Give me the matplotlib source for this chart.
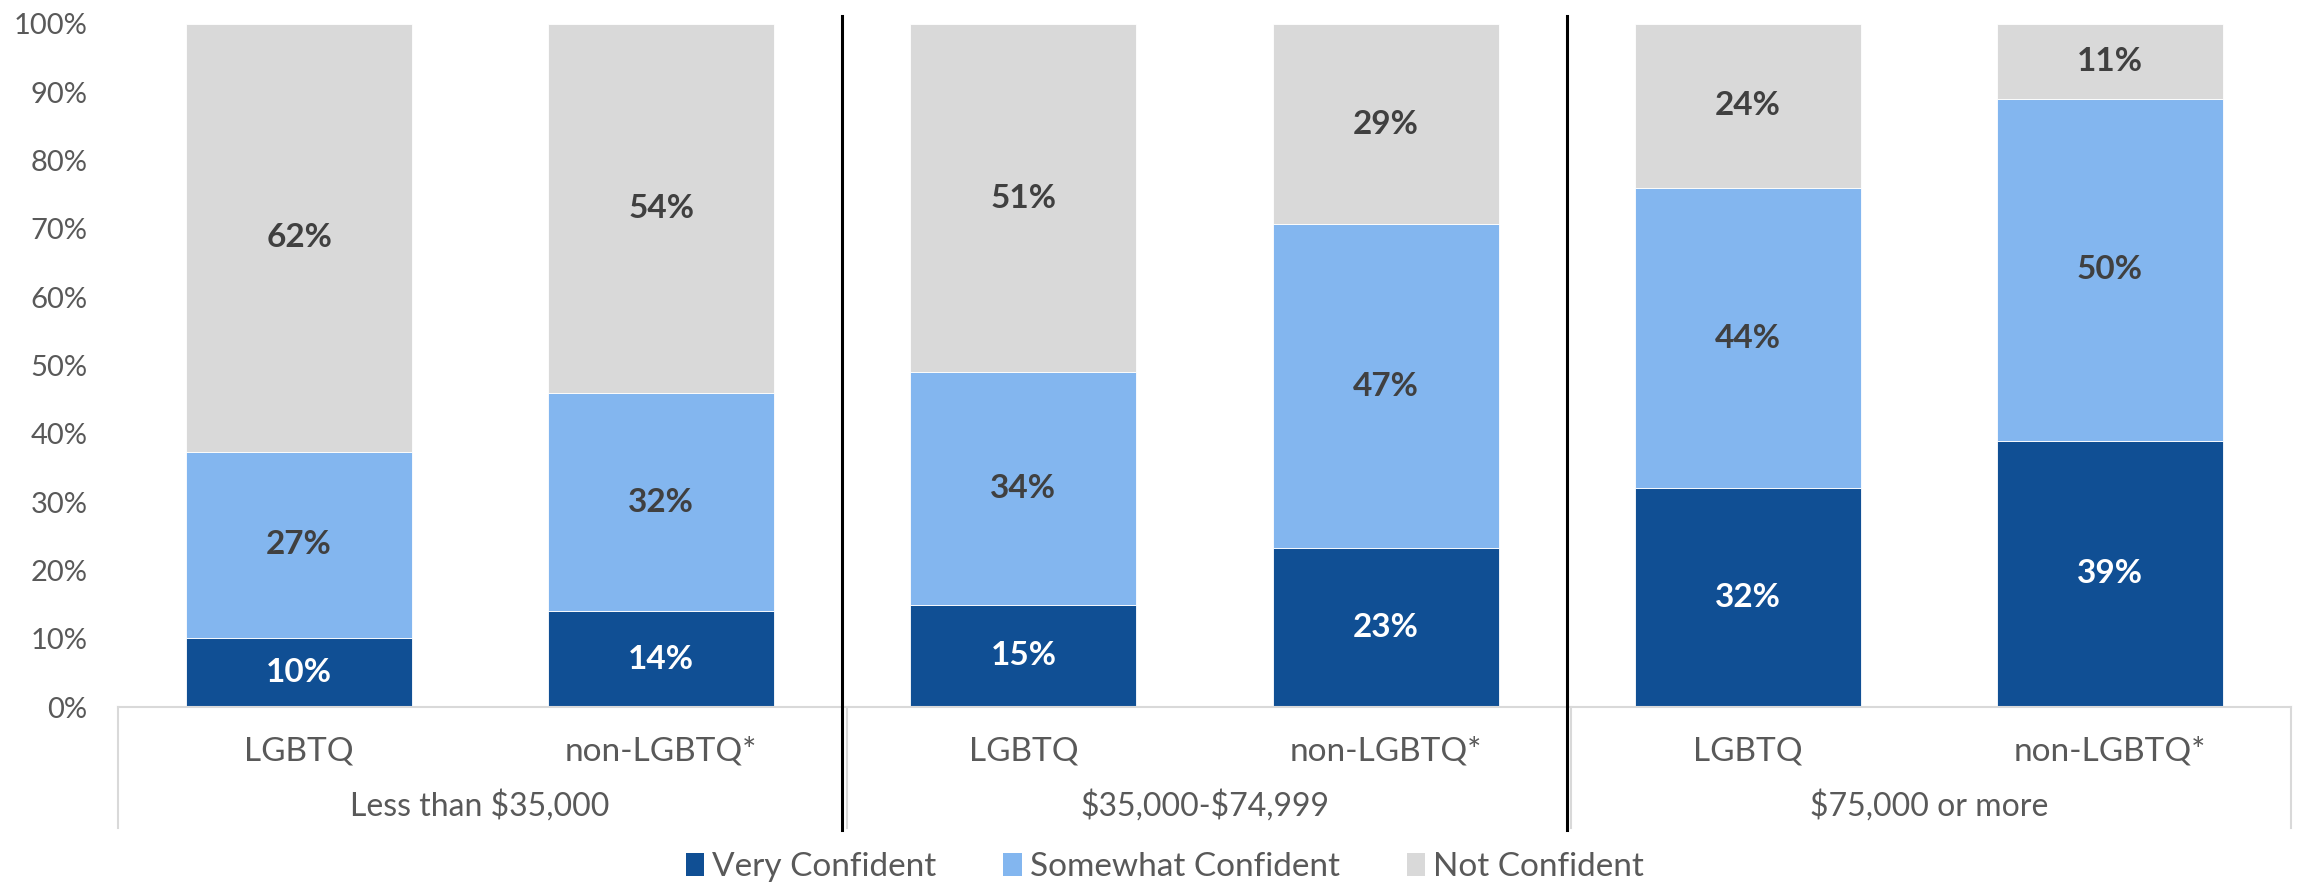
import matplotlib
matplotlib.use("Agg")
import matplotlib.pyplot as plt
import numpy as np
from matplotlib.patches import Patch
from matplotlib.transforms import blended_transform_factory

plt.rcParams['font.family'] = ['Lato', 'DejaVu Sans']

groups = ["Less than $35,000", "$35,000-$74,999", "$75,000 or more"]
subgroups = ["LGBTQ", "non-LGBTQ*"]
series_names = ["Very Confident", "Somewhat Confident", "Not Confident"]
very = [10, 14, 15, 23, 32, 39]
somewhat = [27, 32, 34, 47, 44, 50]
not_conf = [62, 54, 51, 29, 24, 11]
yticks = [0, 10, 20, 30, 40, 50, 60, 70, 80, 90, 100]

colors = ["#104F94", "#83B6EF", "#D9D9D9"]
label_colors = ["white", "#404040", "#404040"]
tick_color = "#595959"

W, H = 2297, 885
fig = plt.figure(figsize=(W / 100, H / 100), dpi=100)
ax = fig.add_axes([118 / W, (H - 707) / H, (2291 - 118) / W, (707 - 24) / H])

data = np.array([very, somewhat, not_conf], dtype=float)
totals = data.sum(axis=0)
pct = data / totals * 100
x = np.arange(len(very))
bottom = np.zeros(len(very))
for i in range(3):
    ax.bar(x, pct[i], 0.624, bottom=bottom, color=colors[i], edgecolor='white', linewidth=0.6, zorder=2)
    for xi, b, h, v in zip(x, bottom, pct[i], data[i]):
        ax.text(xi, b + h / 2, f"{int(v)}%", ha='center', va='center', fontsize=24,
                fontweight='bold', color=label_colors[i], zorder=3)
    bottom += pct[i]

ax.set_xlim(-0.5, len(very) - 0.5)
ax.set_ylim(0, 100)
ax.set_yticks(yticks)
ax.set_yticklabels([f"{t}%" for t in yticks], fontsize=21, color=tick_color)
ax.tick_params(axis='y', length=0, pad=22)
ax.set_xticks(x)
ax.set_xticklabels(subgroups * len(groups), fontsize=24, color=tick_color)
ax.tick_params(axis='x', length=0, pad=21)
for s in ['top', 'right', 'left']:
    ax.spines[s].set_visible(False)
ax.spines['bottom'].set_color('#D9D9D9')
ax.spines['bottom'].set_linewidth(1.5)

trans = blended_transform_factory(ax.transData, ax.transAxes)
ph = 707 - 24
for gi, g in enumerate(groups):
    ax.text(gi * 2 + 0.5, (707 - 806) / ph, g, transform=trans, ha='center', va='center',
            fontsize=23, color=tick_color, parse_math=False)

box_bottom = (707 - 828) / ph
edges = [-0.5, len(very) - 0.5]
for xb in edges + [1.512, 3.512]:
    ax.plot([xb, xb], [0, box_bottom], color='#D9D9D9', lw=1.5, transform=trans,
            clip_on=False, zorder=1)
for xb in [1.5, 3.5]:
    ax.plot([xb, xb], [(707 - 16) / ph, (707 - 830) / ph], color='black', lw=2.2,
            transform=trans, clip_on=False, zorder=4)

handles = [Patch(facecolor=c, edgecolor='none') for c in colors]
fig.legend(handles, series_names, loc='center', bbox_to_anchor=(1165 / W, (H - 867) / H),
           ncol=3, frameon=False, fontsize=24, handlelength=0.55, handleheight=0.7,
           handletextpad=0.25, columnspacing=2.0, labelcolor=tick_color)

fig.savefig("out.png", dpi=100)
